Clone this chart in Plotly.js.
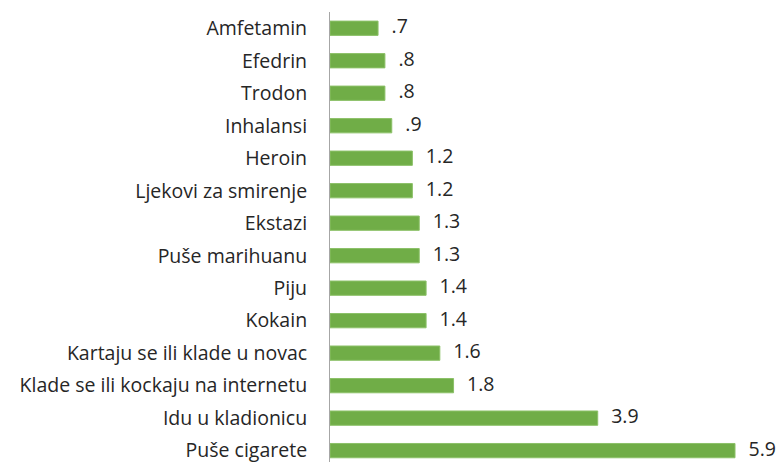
<!DOCTYPE html>
<html><head><meta charset="utf-8">
<script src="https://cdn.plot.ly/plotly-3.0.1.min.js"></script>
<style>html,body{margin:0;padding:0;background:#fff}#chart{width:781px;height:462px}</style>
</head><body><div id="chart"></div>
<script>
const categories = ["Amfetamin","Efedrin","Trodon","Inhalansi","Heroin","Ljekovi za smirenje","Ekstazi","Puše marihuanu","Piju","Kokain","Kartaju se ili klade u novac","Klade se ili kockaju na internetu","Idu u kladionicu","Puše cigarete"];
const values = [0.7,0.8,0.8,0.9,1.2,1.2,1.3,1.3,1.4,1.4,1.6,1.8,3.9,5.9];
const labels = [".7",".8",".8",".9","1.2","1.2","1.3","1.3","1.4","1.4","1.6","1.8","3.9","5.9"];

const FONT = "'Open Sans', 'Noto Sans', sans-serif";
const bars = {
  type: "bar", orientation: "h",
  x: values, y: categories,
  marker: {color: "#70ad47", line: {color: "#8cc168", width: 1}},
  width: 0.44, hoverinfo: "none"
};
const valueLabels = {
  type: "scatter", mode: "text+markers",
  x: values, y: categories, text: labels,
  textposition: "middle right", cliponaxis: false,
  textfont: {family: FONT, size: 19.5, color: "#262626"},
  marker: {size: 20, opacity: 0, color: "#fff"},
  hoverinfo: "none"
};
const layout = {
  width: 781, height: 462,
  margin: {l: 330, r: 0, t: 12, b: 0},
  paper_bgcolor: "#fff", plot_bgcolor: "#fff",
  showlegend: false,
  xaxis: {range: [0, 6.57], showgrid: false, zeroline: false, showticklabels: false, showline: false, fixedrange: true},
  yaxis: {type: "category", range: [13.35, -0.5], autorange: false, showgrid: false, zeroline: false,
    showline: true, linecolor: "#a6a6a6", linewidth: 1, ticks: "", ticklabelstandoff: 18,
    tickfont: {family: FONT, size: 19.5, color: "#262626"}}
};
Plotly.newPlot("chart", [bars, valueLabels], layout, {staticPlot: true});
</script></body></html>
